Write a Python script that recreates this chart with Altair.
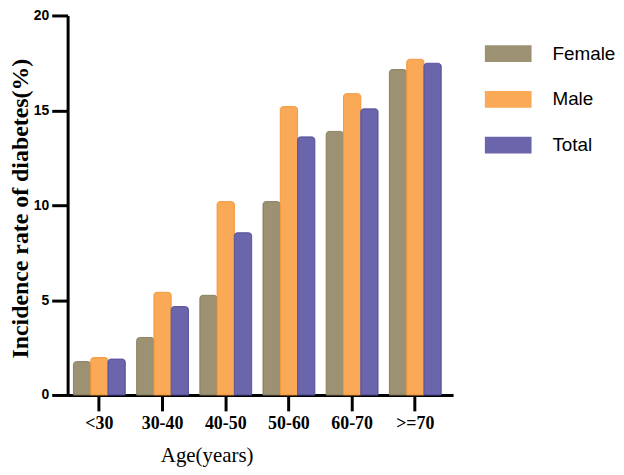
import altair as alt
import pandas as pd

ages = ["<30", "30-40", "40-50", "50-60", "60-70", ">=70"]
groups = ["Female", "Male", "Total"]
female = [1.76, 3.03, 5.25, 10.19, 13.89, 17.15]
male = [1.97, 5.41, 10.19, 15.20, 15.88, 17.69]
total = [1.89, 4.66, 8.55, 13.60, 15.08, 17.48]
fill_colors = ["#9C9273", "#FAA956", "#6B65AB"]
stroke_colors = ["#8A8062", "#F39A3E", "#5A54A0"]

rows = []
for series, vals in zip(groups, [female, male, total]):
    for a, v in zip(ages, vals):
        rows.append({"age": a, "group": series, "value": v})
df = pd.DataFrame(rows)

bars = alt.Chart(df).mark_bar(
    cornerRadiusTopLeft=3, cornerRadiusTopRight=3, strokeWidth=1
).encode(
    x=alt.X("age:N", sort=ages,
            scale=alt.Scale(paddingInner=0.18, paddingOuter=0.14, align=0.33),
            axis=alt.Axis(title="Age(years)", labelAngle=0,
                          labelFont="Liberation Serif", labelFontWeight="bold",
                          labelFontSize=18, labelColor="black", labelPadding=4,
                          titleFont="Liberation Serif", titleFontWeight="normal",
                          titleFontSize=21, titleColor="black",
                          titleX=140, titleY=67, titleBaseline="alphabetic",
                          titleAnchor="middle", titleAlign="center",
                          domainColor="black", domainWidth=3,
                          tickColor="black", tickWidth=3, tickSize=16)),
    xOffset=alt.XOffset("group:N", sort=groups,
                        scale=alt.Scale(paddingInner=0, paddingOuter=0)),
    y=alt.Y("value:Q",
            scale=alt.Scale(domain=[0, 20], nice=False),
            axis=alt.Axis(title="Incidence rate of diabetes(%)", values=[0, 5, 10, 15, 20],
                          grid=False,
                          labelFont="Liberation Sans", labelFontWeight="bold",
                          labelFontSize=14, labelColor="black", labelPadding=3,
                          titleFont="Liberation Serif", titleFontWeight="bold",
                          titleFontSize=24, titleColor="black",
                          titleAngle=-90, titleX=-40, titleY=194,
                          titleAlign="center", titleBaseline="alphabetic",
                          domainColor="black", domainWidth=3,
                          tickColor="black", tickWidth=3, tickSize=16)),
    color=alt.Color("group:N", sort=groups,
                    scale=alt.Scale(domain=groups, range=fill_colors),
                    legend=alt.Legend(title=None, orient="none", legendX=420, legendY=15,
                                      symbolType="M-1,-0.36L1,-0.36L1,0.36L-1,0.36Z",
                                      symbolSize=2209, symbolStrokeWidth=0,
                                      symbolOpacity=1,
                                      labelFont="Liberation Sans", labelFontSize=19,
                                      labelColor="black", labelOffset=21,
                                      rowPadding=12, padding=0)),
    stroke=alt.Stroke("group:N", sort=groups,
                      scale=alt.Scale(domain=groups, range=stroke_colors),
                      legend=None),
).properties(
    width=388, height=382,
    autosize=alt.AutoSizeParams(type="none"),
    padding={"left": 60, "top": 6, "right": 164, "bottom": 71},
).configure_view(stroke=None)

chart = bars
chart.save("out.html", embed_options={"renderer": "svg", "actions": False})
